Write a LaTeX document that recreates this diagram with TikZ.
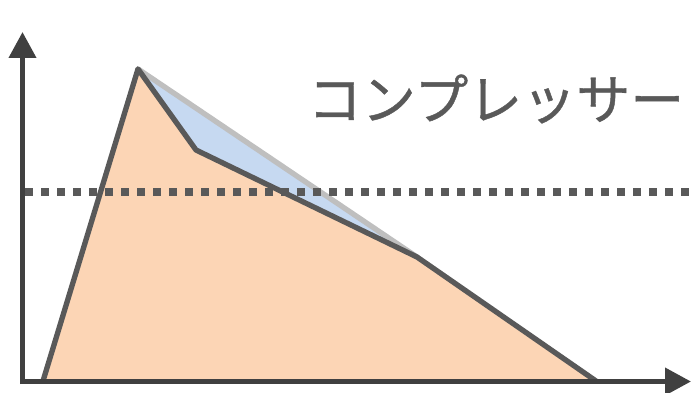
\documentclass[tikz,border=0pt]{standalone}
\usepackage{fontspec}
\newfontfamily\cjk[FakeBold=0.8]{Noto Sans CJK JP}
\usetikzlibrary{arrows.meta}
\definecolor{orangefill}{HTML}{FCD5B5}
\definecolor{bluefill}{HTML}{C6D9F1}
\definecolor{lightgrayline}{HTML}{BFBFBF}
\definecolor{darkline}{HTML}{595959}
\definecolor{axiscol}{HTML}{404040}
\begin{document}
\begin{tikzpicture}[x=0.75pt,y=-0.75pt,
  outline/.style={draw=darkline,line width=4pt,line join=round},
  axisline/.style={draw=axiscol,line width=3.8pt,-{Triangle[length=19.5pt,width=20pt]}},
  dotline/.style={draw=darkline,line width=6pt,dash pattern=on 6pt off 6pt},
  label/.style={font=\cjk\fontsize{40.5}{46}\selectfont,text=darkline,inner sep=0pt}]
\useasboundingbox (0,0) rectangle (691,392);
\coordinate (s) at (43,381);
\coordinate (p) at (138,69);
\coordinate (k) at (196,150);
\coordinate (m) at (417,257);
\coordinate (e) at (596,381);
\fill[orangefill] (s) -- (p) -- (k) -- (m) -- (e) -- cycle;
\fill[bluefill] (p) -- (k) -- (m) -- cycle;
\draw[lightgrayline,line width=4pt,line cap=round] (p) -- (m);
\draw[outline] (s) -- (p) -- (k) -- (m) -- (e);
\coordinate (d1) at (25,192);
\coordinate (d2) at (691,192);
\draw[dotline] (d1) -- (d2);
\coordinate (o) at (22.5,384);
\coordinate (yt) at (22.5,32);
\coordinate (o2) at (20,381.5);
\coordinate (xt) at (691,381.5);
\draw[axisline] (o) -- (yt);
\draw[axisline] (o2) -- (xt);
\node[label] (t) at (496,99) {コンプレッサー};
\end{tikzpicture}
\end{document}
